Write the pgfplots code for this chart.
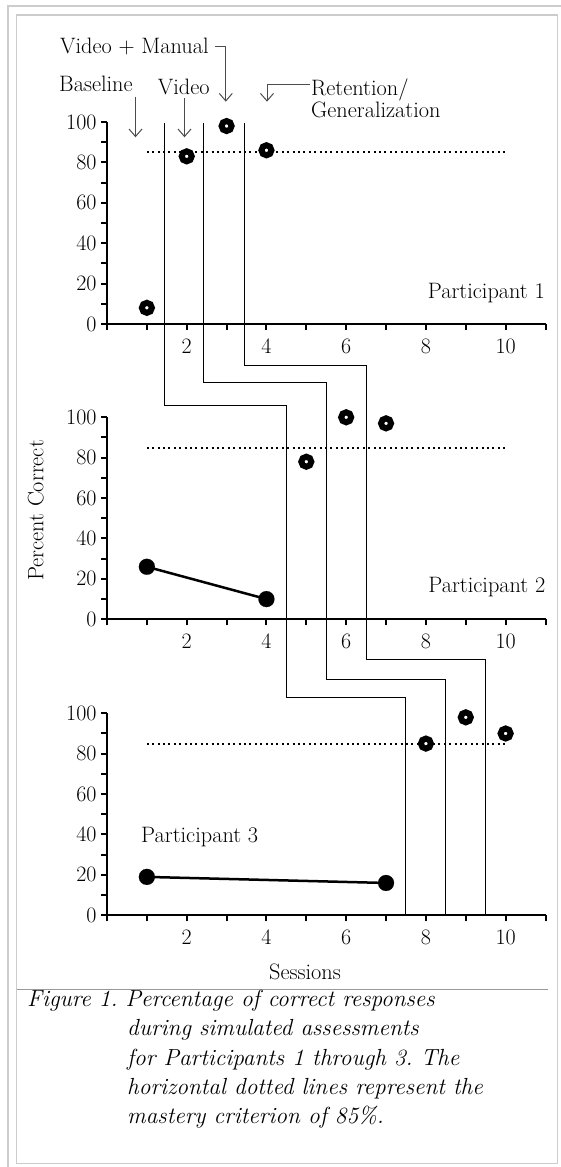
\documentclass[border=0pt]{standalone}
\usepackage{pgfplots}
\pgfplotsset{compat=1.18}
\usetikzlibrary{arrows.meta}
\frenchspacing
\newcommand\lbl{\fontsize{22.3}{24}\selectfont}
\newcommand\tkl{\fontsize{22}{24}\selectfont}
\newcommand\capf{\fontsize{23.3}{28}\selectfont\itshape}
\begin{document}
\begin{tikzpicture}[x=1pt,y=1pt]
\path[use as bounding box] (0,0) rectangle (561,1167);
% frame
\draw[black!20, line width=1.5pt] (8,0) -- (8,1161) -- (561,1161);
\draw[black!20, line width=1.5pt] (16.5,3.3) rectangle (557.7,1152);
\draw[black!40, line width=1pt] (17,177.7) -- (548,177.7);

\pgfplotsset{
  panel/.style={
    scale only axis, width=438.5pt, height=202pt,
    xmin=0, xmax=11, ymin=0, ymax=100,
    axis lines*=left,
    axis line style={line width=2pt},
    xtick={2,4,6,8,10}, minor xtick={0,1,3,5,7,9,11},
    ytick={0,20,...,100}, minor ytick={10,30,...,90},
    tick align=outside, major tick length=6pt, minor tick length=6pt,
    tick style={black, line width=2pt},
    minor tick style={black, line width=2pt},
    tick label style={font=\tkl},
    /pgf/number format/assume math mode=true,
    xticklabel style={yshift=-5pt},
    yticklabel style={xshift=-1pt},
    clip=false,
    anchor=south west,
  },
  ring/.style={only marks, mark=*, mark size=5pt, mark options={draw=black, fill=white, line width=6pt}},
  base/.style={black, line width=2.5pt, mark=*, mark size=8pt, mark options={solid, fill=black, line width=0.1pt}},
  crit/.style={black, line width=2pt, dash pattern=on 2pt off 3.4pt},
  phase/.style={black, line width=1pt},
}

% Panel 1
\begin{axis}[panel, at={(107pt,843pt)}]
\addplot[crit] coordinates {(1,85) (10,85)};
\addplot[ring] coordinates {(1,8) (2,83) (3,98) (4,86)};
\end{axis}

% Panel 2
\begin{axis}[panel, at={(107pt,547.7pt)}]
\addplot[crit] coordinates {(1,85) (10,85)};
\addplot[phase] coordinates {(1.44,245.7) (1.44,105.6) (4.5,105.6) (4.5,-38.5) (7.5,-38.5) (7.5,-146.5)};
\addplot[phase] coordinates {(2.43,245.7) (2.43,117.1) (5.5,117.1) (5.5,-29.8) (8.5,-29.8) (8.5,-146.5)};
\addplot[phase] coordinates {(3.45,245.7) (3.45,125.4) (6.5,125.4) (6.5,-19.7) (9.5,-19.7) (9.5,-146.5)};
\addplot[base] coordinates {(1,26) (4,10)};
\addplot[ring] coordinates {(5,78) (6,100) (7,97)};
\end{axis}

% Panel 3
\begin{axis}[panel, at={(107pt,251.7pt)}]
\addplot[crit] coordinates {(1,85) (10,85)};
\addplot[base] coordinates {(1,19) (7,16)};
\addplot[ring] coordinates {(8,85) (9,98) (10,90)};
\end{axis}

% panel labels
\node[anchor=east, inner sep=0pt, font=\lbl] at (545,874.3) {Participant 1};
\node[anchor=east, inner sep=0pt, font=\lbl] at (545.5,579.7) {Participant 2};
\node[anchor=west, inner sep=0pt, font=\lbl] at (141,329.7) {Participant 3};
\node[rotate=90, inner sep=0pt, font=\lbl] at (35.8,656.5) {Percent Correct};
\node[inner sep=0pt, font=\lbl] at (305,195) {Sessions};

% phase annotations
\node[anchor=base west, inner sep=0pt, font=\lbl] at (59,1075.3) {Baseline};
\node[anchor=base west, inner sep=0pt, font=\lbl] at (157.7,1072.7) {Video};
\node[anchor=base west, inner sep=0pt, font=\lbl] at (60,1113.7) {Video + Manual};
\node[anchor=base west, inner sep=0pt, font=\lbl] at (311,1071.5) {Retention/};
\node[anchor=base west, inner sep=0pt, font=\lbl] at (311,1049.7) {Generalization};
\begin{scope}[black!70, line width=1pt, -{Straight Barb[length=7.5pt,width=13pt]}]
\draw (135.5,1070.3) -- (135.5,1029.7);
\draw (184.5,1068.7) -- (184.5,1029.7);
\draw (215,1120.3) -- (225.8,1120.3) -- (225.8,1065.3);
\draw (310,1082) -- (267,1082) -- (267,1065.3);
\end{scope}

% caption
\node[anchor=base west, inner sep=0pt, font=\capf] at (27,160.3) {Figure 1. Percentage of correct responses};
\node[anchor=base west, inner sep=0pt, font=\capf] at (127,131) {during simulated assessments};
\node[anchor=base west, inner sep=0pt, font=\capf] at (127,101.7) {for Participants 1 through 3. The};
\node[anchor=base west, inner sep=0pt, font=\capf] at (127,72.4) {horizontal dotted lines represent the};
\node[anchor=base west, inner sep=0pt, font=\capf] at (127,43.1) {mastery criterion of 85\%.};
\end{tikzpicture}
\end{document}
